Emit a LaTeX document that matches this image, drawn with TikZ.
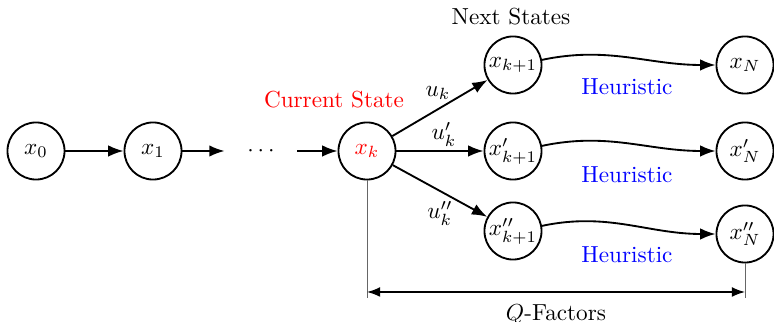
\documentclass[tikz,border=0pt]{standalone}
\usetikzlibrary{arrows.meta}
\begin{document}
\begin{tikzpicture}[x=0.431pt,y=-0.431pt,
  st/.style={circle,draw,thick,minimum size=24.6pt,inner sep=0pt},
  arr/.style={thick,-{Latex}},
  heur/.style={text=blue},
  guide/.style={draw=black!60,thin}]
\useasboundingbox (0,0) rectangle (774,322);
\node[st] (x0) at (36,151) {$x_0$};
\node[st] (x1) at (153,151) {$x_1$};
\node[minimum width=31pt,inner sep=0pt] (dots) at (261,151) {$\cdots$};
\node[st] (xk) at (367,151) {\textcolor{red}{$x_k$}};
\node[st] (a1) at (513,65) {$x_{k+1}$};
\node[st] (b1) at (513,151) {$x'_{k+1}$};
\node[st] (c1) at (513,231) {$x''_{k+1}$};
\node[st] (aN) at (745,65) {$x_N$};
\node[st] (bN) at (745,151) {$x'_N$};
\node[st] (cN) at (745,234) {$x''_N$};
\node[text=red] (cur) at (334,100) {Current State};
\node (next) at (511,17) {Next States};
\draw[arr] (x0) -- (x1);
\draw[arr] (x1) -- (dots);
\draw[arr] (dots) -- (xk);
\draw[arr] (xk) -- (a1);
\draw[arr] (xk) -- (b1);
\draw[arr] (xk) -- (c1);
\node (uk) at (438,93) {$u_k$};
\node (uk1) at (444,134) {$u'_k$};
\node (uk2) at (440,213) {$u''_k$};
\draw[arr] (a1.10) to[out=12,in=180] (aN.west);
\draw[arr] (b1.10) to[out=12,in=180] (bN.west);
\draw[arr] (c1.10) to[out=12,in=180] (cN.west);
\node[heur] (h1) at (627,87) {Heuristic};
\node[heur] (h2) at (627,175) {Heuristic};
\node[heur] (h3) at (627,255) {Heuristic};
\coordinate (qa) at (xk.south |- 298,298);
\coordinate (qb) at (cN.south |- 298,298);
\draw[guide] (xk.south) -- (qa);
\draw[guide] (cN.south) -- (qb);
\draw[semithick,{Latex}-{Latex}] (xk.south |- 292,292) -- node[below=2pt] (qf) {$Q$-Factors} (cN.south |- 292,292);
\end{tikzpicture}
\end{document}
